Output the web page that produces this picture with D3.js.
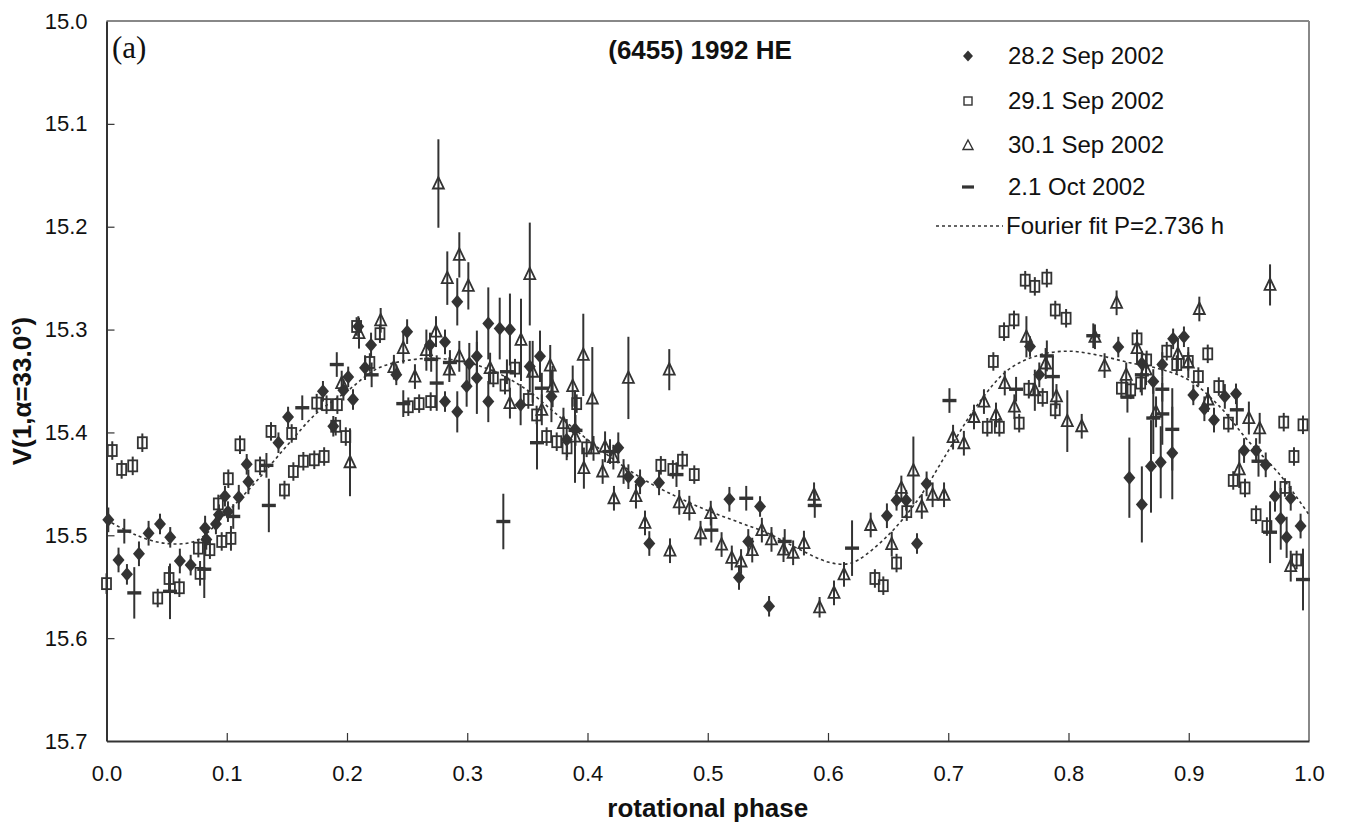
<!DOCTYPE html>
<html>
<head>
<meta charset="utf-8">
<script src="https://cdn.jsdelivr.net/npm/d3@7"></script>
<style>
  body { margin: 0; background: #fff; }
  svg { font-family: "Liberation Sans", Arial, sans-serif; }
  text { fill: #111; }
</style>
</head>
<body>
<div id="chart"></div>
<script>
// [phase, V magnitude, error]
const sep28 = [
  [0.0015, 15.485, 0.012], [0.010, 15.524, 0.012], [0.017, 15.538, 0.01], [0.027, 15.518, 0.012],
  [0.035, 15.498, 0.012], [0.0445, 15.489, 0.01], [0.053, 15.502, 0.01], [0.061, 15.525, 0.012],
  [0.070, 15.529, 0.01], [0.082, 15.493, 0.012], [0.083, 15.504, 0.01], [0.091, 15.489, 0.01],
  [0.0935, 15.480, 0.01], [0.0985, 15.462, 0.01], [0.101, 15.477, 0.01], [0.110, 15.463, 0.012],
  [0.1166, 15.431, 0.01], [0.118, 15.448, 0.012], [0.143, 15.410, 0.01], [0.151, 15.385, 0.01],
  [0.180, 15.360, 0.01], [0.1886, 15.394, 0.01], [0.197, 15.359, 0.01], [0.201, 15.346, 0.01],
  [0.205, 15.368, 0.01], [0.2094, 15.297, 0.01], [0.215, 15.337, 0.012], [0.220, 15.315, 0.012],
  [0.241, 15.344, 0.01], [0.250, 15.302, 0.012], [0.269, 15.315, 0.012], [0.2815, 15.312, 0.012],
  [0.2815, 15.370, 0.01], [0.2917, 15.273, 0.023], [0.2917, 15.380, 0.02], [0.2995, 15.355, 0.02],
  [0.3017, 15.333, 0.02], [0.308, 15.326, 0.025], [0.308, 15.347, 0.035], [0.3175, 15.294, 0.035],
  [0.3175, 15.370, 0.02], [0.327, 15.299, 0.03], [0.3355, 15.300, 0.035], [0.3444, 15.373, 0.02],
  [0.352, 15.336, 0.025], [0.3605, 15.326, 0.025], [0.370, 15.365, 0.025], [0.3827, 15.407, 0.02],
  [0.3896, 15.397, 0.015], [0.4256, 15.415, 0.015], [0.434, 15.443, 0.012], [0.4437, 15.448, 0.012],
  [0.4514, 15.508, 0.012], [0.4595, 15.449, 0.012], [0.518, 15.465, 0.012], [0.526, 15.541, 0.012],
  [0.5337, 15.506, 0.012], [0.5435, 15.472, 0.01], [0.551, 15.569, 0.01], [0.649, 15.481, 0.012],
  [0.657, 15.466, 0.01], [0.665, 15.466, 0.01], [0.674, 15.508, 0.01], [0.682, 15.450, 0.012],
  [0.768, 15.3165, 0.01], [0.7757, 15.344, 0.012], [0.8414, 15.317, 0.01], [0.8506, 15.444, 0.039],
  [0.861, 15.333, 0.012], [0.861, 15.470, 0.037], [0.8686, 15.433, 0.045], [0.8705, 15.3505, 0.012],
  [0.8767, 15.429, 0.035], [0.878, 15.334, 0.012], [0.8863, 15.420, 0.045], [0.887, 15.309, 0.01],
  [0.896, 15.307, 0.01], [0.9038, 15.3635, 0.01], [0.913, 15.377, 0.012], [0.921, 15.388, 0.012],
  [0.930, 15.365, 0.012], [0.9393, 15.3625, 0.01], [0.946, 15.4176, 0.012], [0.956, 15.4176, 0.012],
  [0.964, 15.4315, 0.012], [0.9717, 15.462, 0.015], [0.9765, 15.484, 0.03], [0.9814, 15.502, 0.02],
  [0.9848, 15.464, 0.012], [0.993, 15.491, 0.012]
];

const sep29 = [
  [0.0, 15.547, 0.01], [0.0048, 15.4176, 0.009], [0.0126, 15.436, 0.009], [0.0218, 15.4325, 0.009],
  [0.0298, 15.410, 0.009], [0.0426, 15.561, 0.009], [0.052, 15.542, 0.012], [0.0606, 15.551, 0.009],
  [0.0764, 15.5125, 0.009], [0.0778, 15.537, 0.012], [0.086, 15.514, 0.009], [0.093, 15.4695, 0.009],
  [0.0958, 15.506, 0.009], [0.1013, 15.445, 0.009], [0.1035, 15.503, 0.012], [0.111, 15.412, 0.009],
  [0.1277, 15.4325, 0.009], [0.1368, 15.399, 0.009], [0.148, 15.456, 0.009], [0.154, 15.401, 0.009],
  [0.1554, 15.438, 0.009], [0.1637, 15.428, 0.009], [0.1728, 15.4266, 0.009], [0.1748, 15.3715, 0.009],
  [0.181, 15.4234, 0.009], [0.183, 15.373, 0.009], [0.1906, 15.394, 0.009], [0.192, 15.373, 0.009],
  [0.199, 15.404, 0.009], [0.208, 15.297, 0.009], [0.219, 15.332, 0.009], [0.2274, 15.304, 0.009],
  [0.251, 15.375, 0.009], [0.260, 15.372, 0.009], [0.2696, 15.370, 0.009], [0.3217, 15.347, 0.009],
  [0.3314, 15.354, 0.009], [0.3397, 15.3375, 0.009], [0.3508, 15.368, 0.009], [0.3577, 15.383, 0.009],
  [0.366, 15.404, 0.009], [0.3744, 15.409, 0.009], [0.383, 15.415, 0.009], [0.391, 15.372, 0.009],
  [0.3993, 15.415, 0.009], [0.461, 15.432, 0.009], [0.471, 15.436, 0.009], [0.479, 15.427, 0.009],
  [0.4888, 15.441, 0.009], [0.639, 15.542, 0.009], [0.646, 15.549, 0.009], [0.657, 15.527, 0.009],
  [0.6655, 15.477, 0.009], [0.7325, 15.395, 0.009], [0.7375, 15.331, 0.009], [0.7425, 15.395, 0.009],
  [0.7464, 15.302, 0.009], [0.7547, 15.2906, 0.009], [0.759, 15.391, 0.009], [0.764, 15.252, 0.009],
  [0.767, 15.358, 0.009], [0.772, 15.258, 0.009], [0.7785, 15.366, 0.009], [0.782, 15.250, 0.009],
  [0.789, 15.281, 0.009], [0.789, 15.378, 0.009], [0.798, 15.289, 0.009], [0.844, 15.357, 0.009],
  [0.8517, 15.3586, 0.009], [0.857, 15.309, 0.009], [0.86, 15.352, 0.009], [0.865, 15.3295, 0.009],
  [0.8817, 15.321, 0.009], [0.890, 15.334, 0.009], [0.8996, 15.331, 0.009], [0.908, 15.3457, 0.009],
  [0.9158, 15.3236, 0.009], [0.925, 15.3554, 0.009], [0.933, 15.391, 0.009], [0.937, 15.4467, 0.009],
  [0.9468, 15.454, 0.009], [0.956, 15.480, 0.009], [0.965, 15.4915, 0.009], [0.979, 15.390, 0.009],
  [0.98, 15.4535, 0.009], [0.9875, 15.4234, 0.009], [0.9897, 15.524, 0.009], [0.995, 15.3926, 0.009]
];

const sep30 = [
  [0.1956, 15.352, 0.012], [0.2025, 15.429, 0.033], [0.210, 15.3035, 0.015], [0.228, 15.291, 0.012],
  [0.239, 15.3366, 0.012], [0.2468, 15.318, 0.015], [0.2565, 15.3457, 0.012], [0.266, 15.320, 0.02],
  [0.274, 15.302, 0.015], [0.276, 15.158, 0.043], [0.2834, 15.250, 0.026], [0.2851, 15.339, 0.012],
  [0.2934, 15.2274, 0.022], [0.2934, 15.326, 0.015], [0.3009, 15.2575, 0.023], [0.319, 15.3375, 0.015],
  [0.3355, 15.3715, 0.015], [0.3447, 15.310, 0.04], [0.352, 15.246, 0.05], [0.3544, 15.341, 0.03],
  [0.362, 15.378, 0.015], [0.369, 15.335, 0.02], [0.371, 15.3554, 0.02], [0.380, 15.391, 0.015],
  [0.3877, 15.355, 0.02], [0.3896, 15.404, 0.045], [0.3965, 15.3246, 0.04], [0.397, 15.4347, 0.02],
  [0.404, 15.367, 0.05], [0.405, 15.4155, 0.012], [0.4126, 15.438, 0.012], [0.4146, 15.414, 0.015],
  [0.4215, 15.424, 0.012], [0.422, 15.464, 0.012], [0.430, 15.438, 0.012], [0.434, 15.347, 0.04],
  [0.4403, 15.462, 0.012], [0.4478, 15.488, 0.012], [0.468, 15.339, 0.02], [0.4686, 15.515, 0.012],
  [0.4763, 15.468, 0.012], [0.4847, 15.4736, 0.012], [0.494, 15.498, 0.012], [0.5025, 15.4785, 0.012],
  [0.5115, 15.509, 0.012], [0.520, 15.522, 0.012], [0.5277, 15.5255, 0.012], [0.537, 15.5144, 0.012],
  [0.545, 15.495, 0.012], [0.553, 15.504, 0.012], [0.563, 15.514, 0.012], [0.571, 15.517, 0.012],
  [0.580, 15.5076, 0.012], [0.5884, 15.4606, 0.012], [0.593, 15.570, 0.01], [0.605, 15.556, 0.012],
  [0.6133, 15.538, 0.012], [0.6355, 15.490, 0.012], [0.653, 15.5086, 0.012], [0.661, 15.454, 0.012],
  [0.671, 15.437, 0.033], [0.678, 15.472, 0.012], [0.687, 15.4606, 0.012], [0.6965, 15.4606, 0.012],
  [0.704, 15.4046, 0.012], [0.713, 15.4105, 0.012], [0.7214, 15.385, 0.012], [0.7297, 15.370, 0.012],
  [0.7397, 15.383, 0.012], [0.747, 15.352, 0.012], [0.755, 15.375, 0.012], [0.765, 15.307, 0.02],
  [0.772, 15.359, 0.02], [0.781, 15.333, 0.015], [0.790, 15.365, 0.012], [0.799, 15.389, 0.03],
  [0.811, 15.394, 0.012], [0.822, 15.307, 0.012], [0.830, 15.335, 0.012], [0.840, 15.274, 0.012],
  [0.848, 15.344, 0.012], [0.857, 15.318, 0.015], [0.8645, 15.339, 0.015], [0.8728, 15.380, 0.015],
  [0.891, 15.3236, 0.015], [0.8996, 15.332, 0.015], [0.9088, 15.280, 0.012], [0.916, 15.368, 0.012],
  [0.942, 15.436, 0.018], [0.950, 15.386, 0.016], [0.959, 15.396, 0.015], [0.9676, 15.2566, 0.02],
  [0.9848, 15.530, 0.015]
];

const oct2 = [
  [0.0148, 15.496, 0.012], [0.0231, 15.556, 0.025], [0.0528, 15.5545, 0.027], [0.0813, 15.533, 0.028],
  [0.1054, 15.4817, 0.012], [0.133, 15.432, 0.012], [0.135, 15.471, 0.026], [0.1628, 15.376, 0.012],
  [0.1915, 15.334, 0.012], [0.2205, 15.344, 0.012], [0.2468, 15.372, 0.013], [0.270, 15.329, 0.012],
  [0.2746, 15.352, 0.027], [0.2856, 15.332, 0.012], [0.330, 15.4866, 0.027], [0.333, 15.341, 0.012],
  [0.358, 15.410, 0.026], [0.362, 15.357, 0.015], [0.390, 15.398, 0.015], [0.4187, 15.4186, 0.012],
  [0.474, 15.441, 0.012], [0.503, 15.495, 0.012], [0.532, 15.464, 0.012], [0.564, 15.506, 0.012],
  [0.589, 15.471, 0.012], [0.620, 15.5125, 0.027], [0.701, 15.369, 0.012], [0.7564, 15.358, 0.012],
  [0.782, 15.3256, 0.015], [0.787, 15.3457, 0.02], [0.8206, 15.306, 0.012], [0.849, 15.3657, 0.015],
  [0.861, 15.344, 0.02], [0.8705, 15.386, 0.035], [0.878, 15.358, 0.012], [0.878, 15.382, 0.03],
  [0.8863, 15.397, 0.04], [0.940, 15.378, 0.015], [0.958, 15.428, 0.015], [0.9676, 15.497, 0.03],
  [0.995, 15.543, 0.03]
];

// Fourier fit
const fitPhase = [0, 0.025, 0.05, 0.075, 0.1, 0.125, 0.15, 0.175, 0.2, 0.225, 0.25, 0.275, 0.3, 0.325,
  0.35, 0.375, 0.4, 0.425, 0.45, 0.475, 0.5, 0.525, 0.55, 0.575, 0.6, 0.615, 0.625, 0.65, 0.675, 0.7,
  0.725, 0.75, 0.775, 0.8, 0.825, 0.85, 0.875, 0.9, 0.925, 0.95, 0.975, 1.0];
const fitMag = [15.485, 15.500, 15.508, 15.505, 15.478, 15.447, 15.413, 15.381, 15.360, 15.338, 15.330,
  15.328, 15.332, 15.342, 15.359, 15.383, 15.407, 15.429, 15.448, 15.463, 15.476, 15.487, 15.498, 15.513,
  15.526, 15.528, 15.524, 15.500, 15.465, 15.418, 15.372, 15.339, 15.325, 15.321, 15.325, 15.332, 15.338,
  15.349, 15.374, 15.409, 15.440, 15.480];

const xTicks = [0, 0.1, 0.2, 0.3, 0.4, 0.5, 0.6, 0.7, 0.8, 0.9, 1.0];
const yTicks = [15.0, 15.1, 15.2, 15.3, 15.4, 15.5, 15.6, 15.7];
const legendLabels = ['28.2 Sep 2002', '29.1 Sep 2002', '30.1 Sep 2002', '2.1 Oct 2002', 'Fourier fit P=2.736 h'];

const width = 1347, height = 825;
const ink = '#333';
const margin = {top: 21, right: 38, bottom: 84, left: 106.5};

const svg = d3.select('#chart').append('svg')
  .attr('width', width)
  .attr('height', height);

const x = d3.scaleLinear().domain([0, 1]).range([margin.left, width - margin.right]);
const y = d3.scaleLinear().domain([15.0, 15.7]).range([margin.top, height - margin.bottom]);

// frame: grey top/right, dark axes left/bottom
svg.append('line').attr('x1', x(0)).attr('x2', x(1)).attr('y1', y(15.0)).attr('y2', y(15.0))
  .attr('stroke', '#888').attr('stroke-width', 2);
svg.append('line').attr('x1', x(1)).attr('x2', x(1)).attr('y1', y(15.0)).attr('y2', y(15.7))
  .attr('stroke', '#888').attr('stroke-width', 2);

const xAxis = svg.append('g')
  .attr('transform', `translate(0,${y(15.7)})`)
  .call(d3.axisBottom(x).tickValues(xTicks).tickSizeInner(-8).tickSizeOuter(0).tickPadding(24)
    .tickFormat(d3.format('.1f')));
const yAxis = svg.append('g')
  .attr('transform', `translate(${x(0)},0)`)
  .call(d3.axisLeft(y).tickValues(yTicks).tickSizeInner(-8).tickSizeOuter(0).tickPadding(19)
    .tickFormat(d3.format('.1f')));

[xAxis, yAxis].forEach(g => {
  g.attr('font-family', null).attr('font-size', null);
  g.select('.domain').attr('stroke', ink).attr('stroke-width', 2);
  g.selectAll('.tick line').attr('stroke', ink).attr('stroke-width', 1.2);
  g.selectAll('.tick text').style('font-size', '22px').style('fill', '#111');
});
xAxis.selectAll('.tick').filter(d => d === 0 || d === 1).select('line').remove();
yAxis.selectAll('.tick').filter(d => d === 15.0 || d === 15.7).select('line').remove();

// axis titles
svg.append('text')
  .attr('x', (x(0) + x(1)) / 2).attr('y', 817)
  .attr('text-anchor', 'middle').style('font-size', '26px').style('font-weight', 'bold')
  .text('rotational phase');
svg.append('text')
  .attr('transform', `translate(31,${(y(15.0) + y(15.7)) / 2 + 10}) rotate(-90)`)
  .attr('text-anchor', 'middle').style('font-size', '26px').style('font-weight', 'bold')
  .text('V(1,α=33.0°)');

svg.append('text')
  .attr('x', 112).attr('y', 58)
  .style('font-family', '"Liberation Serif", "Times New Roman", serif')
  .style('font-size', '31px')
  .text('(a)');
svg.append('text')
  .attr('x', 700).attr('y', 59)
  .attr('text-anchor', 'middle').style('font-size', '26px').style('font-weight', 'bold')
  .text('(6455) 1992 HE');

// Fourier fit curve
const fit = fitPhase.map((p, i) => [p, fitMag[i]]);
svg.append('path')
  .datum(fit)
  .attr('fill', 'none')
  .attr('stroke', ink)
  .attr('stroke-width', 1.6)
  .attr('stroke-dasharray', '3,3')
  .attr('d', d3.line().x(d => x(d[0])).y(d => y(d[1])).curve(d3.curveCatmullRom));

// marker shapes, centered on 0,0
const markers = {
  diamond: g => g.append('path').attr('d', 'M0,-7L6,0L0,7L-6,0Z').attr('fill', ink),
  square: g => g.append('rect').attr('x', -4.5).attr('y', -5.5).attr('width', 9).attr('height', 11)
    .attr('fill', 'none').attr('stroke', ink).attr('stroke-width', 1.8),
  triangle: g => g.append('path').attr('d', 'M0,-6.5L5.5,5L-5.5,5Z')
    .attr('fill', 'none').attr('stroke', ink).attr('stroke-width', 1.8),
  dash: g => g.append('rect').attr('x', -7).attr('y', -1.7).attr('width', 14).attr('height', 3.4)
    .attr('fill', ink)
};

const series = [
  {data: sep28, shape: 'diamond'},
  {data: sep29, shape: 'square'},
  {data: sep30, shape: 'triangle'},
  {data: oct2, shape: 'dash'}
];

series.forEach(s => {
  const g = svg.append('g');
  g.selectAll('line.err')
    .data(s.data)
    .enter().append('line')
    .attr('class', 'err')
    .attr('x1', d => x(d[0])).attr('x2', d => x(d[0]))
    .attr('y1', d => y(d[1] - d[2])).attr('y2', d => y(d[1] + d[2]))
    .attr('stroke', ink).attr('stroke-width', 2);
  const pts = g.selectAll('g.pt')
    .data(s.data)
    .enter().append('g')
    .attr('class', 'pt')
    .attr('transform', d => `translate(${x(d[0])},${y(d[1])})`);
  markers[s.shape](pts);
});

// legend
const legendRows = [53, 98, 142, 184, 223];
const legendMarkers = [
  g => g.append('path').attr('d', 'M0,-5.5L5,0L0,5.5L-5,0Z').attr('fill', ink),
  g => g.append('rect').attr('x', -4).attr('y', -4).attr('width', 8).attr('height', 8)
    .attr('fill', 'none').attr('stroke', ink).attr('stroke-width', 1.4),
  g => g.append('path').attr('d', 'M0,-5L5,4.5L-5,4.5Z')
    .attr('fill', 'none').attr('stroke', ink).attr('stroke-width', 1.4),
  g => g.append('rect').attr('x', -6).attr('y', -1.6).attr('width', 12).attr('height', 3.2).attr('fill', ink)
];
const legend = svg.append('g');
legendLabels.forEach((label, i) => {
  const row = legend.append('g').attr('transform', `translate(0,${legendRows[i]})`);
  if (i < 4) {
    legendMarkers[i](row.append('g').attr('transform', 'translate(968,3)'));
  } else {
    row.append('line').attr('x1', 936).attr('x2', 1003).attr('y1', 3).attr('y2', 3)
      .attr('stroke', ink).attr('stroke-width', 1.4).attr('stroke-dasharray', '3,3');
  }
  row.append('text')
    .attr('x', i < 4 ? 1008 : 1006).attr('y', 11)
    .style('font-size', '24px')
    .text(label);
});
</script>
</body>
</html>
